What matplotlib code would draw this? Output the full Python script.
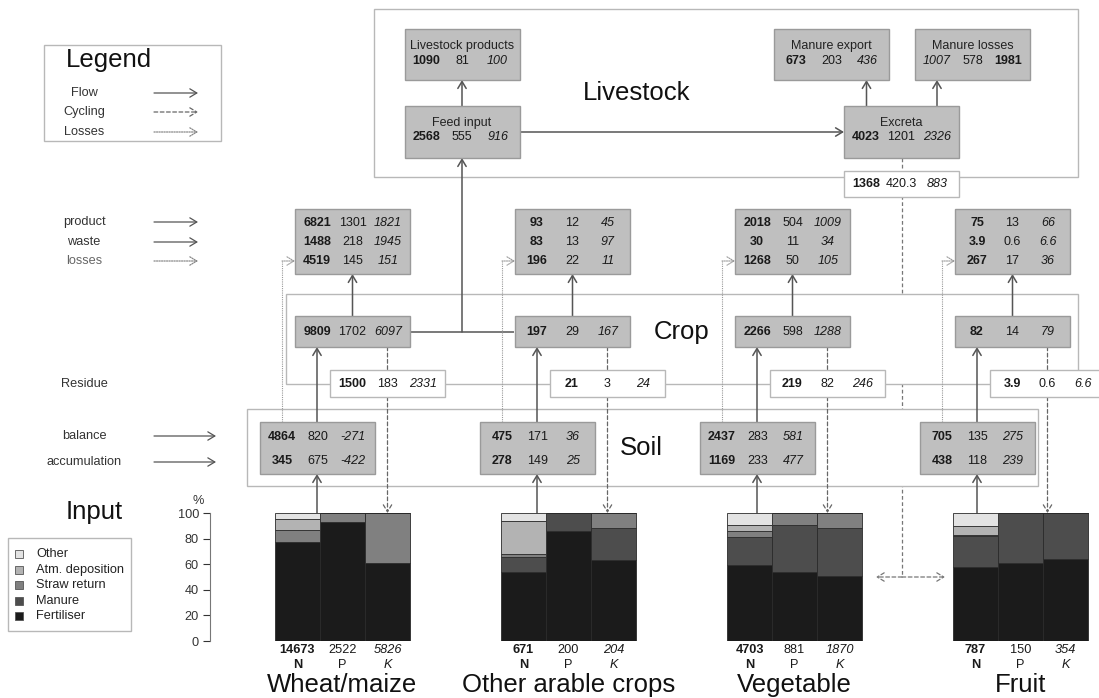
import matplotlib
matplotlib.use('Agg')
import matplotlib.pyplot as plt
from matplotlib.patches import Rectangle

plt.rcParams['font.family'] = ['Liberation Sans', 'DejaVu Sans']

# ---------------- data ----------------
groups = ['Wheat/maize', 'Other arable crops', 'Vegetable', 'Fruit']
nutrients = ['N', 'P', 'K']
input_totals = [['14673', '2522', '5826'], ['671', '200', '204'],
                ['4703', '881', '1870'], ['787', '150', '354']]

source_names = ['Fertiliser', 'Manure', 'Straw return', 'Atm. deposition', 'Other']
fertiliser = [[77, 93, 61], [54, 86, 63], [59, 54, 51], [58, 61, 64]]
manure = [[0, 0, 0], [12, 14, 25], [22, 37, 37], [24, 39, 36]]
straw_return = [[10, 7, 39], [2, 0, 12], [5, 9, 12], [1, 0, 0]]
atm_deposition = [[8, 0, 0], [26, 0, 0], [5, 0, 0], [7, 0, 0]]
other_input = [[5, 0, 0], [6, 0, 0], [9, 0, 0], [10, 0, 0]]

product = [['6821', '1301', '1821'], ['93', '12', '45'], ['2018', '504', '1009'], ['75', '13', '66']]
waste = [['1488', '218', '1945'], ['83', '13', '97'], ['30', '11', '34'], ['3.9', '0.6', '6.6']]
losses = [['4519', '145', '151'], ['196', '22', '11'], ['1268', '50', '105'], ['267', '17', '36']]
crop = [['9809', '1702', '6097'], ['197', '29', '167'], ['2266', '598', '1288'], ['82', '14', '79']]
residue = [['1500', '183', '2331'], ['21', '3', '24'], ['219', '82', '246'], ['3.9', '0.6', '6.6']]
balance = [['4864', '820', '-271'], ['475', '171', '36'], ['2437', '283', '581'], ['705', '135', '275']]
accumulation = [['345', '675', '-422'], ['278', '149', '25'], ['1169', '233', '477'], ['438', '118', '239']]

livestock_products = ['1090', '81', '100']
feed_input = ['2568', '555', '916']
manure_export = ['673', '203', '436']
manure_losses = ['1007', '578', '1981']
excreta = ['4023', '1201', '2326']
manure_applied = ['1368', '420.3', '883']

# ---------------- styling ----------------
GFACE = '#bfbfbf'
GEDGE = '#9a9a9a'
OEDGE = '#b8b8b8'
LINE = '#555555'
TXT = '#1a1a1a'
layer_colors = ['#1b1b1b', '#4d4d4d', '#808080', '#b3b3b3', '#e3e3e3']
BIG = 18.5
SMALL = 9.2
BOXF = 9

fig = plt.figure(figsize=(10.99, 6.98), dpi=100)
ax = fig.add_axes([0, 0, 1, 1])
ax.set_xlim(0, 1099)
ax.set_ylim(698, 0)
ax.axis('off')

STY = [dict(fontweight='bold'), dict(), dict(fontstyle='italic')]
COLS = [22, 57.5, 93]
BW = 115


def rect(x0, y0, x1, y1, face, edge, z, lw=1.0):
    ax.add_patch(Rectangle((x0, y0), x1 - x0, y1 - y0, facecolor=face,
                           edgecolor=edge, lw=lw, zorder=z))


def row(x0, y, vals, styles=(0, 1, 2), size=BOXF):
    for off, v, s in zip(COLS, vals, styles):
        ax.text(x0 + off, y, v, ha='center', va='center', fontsize=size,
                color=TXT, zorder=6, **STY[s])


def arrow(x0, y0, x1, y1, ls='-', color=LINE, lw=1.1, z=3, style='->'):
    ax.annotate('', xy=(x1, y1), xytext=(x0, y0), zorder=z,
                arrowprops=dict(arrowstyle=style + ',head_length=0.5,head_width=0.3',
                                color=color, lw=lw, linestyle=ls,
                                shrinkA=0, shrinkB=0))


def line(xs, ys, ls='-', color=LINE, lw=1.1, z=3):
    ax.plot(xs, ys, ls=ls, color=color, lw=lw, zorder=z, solid_capstyle='butt')


# ---------------- left legend ----------------
rect(44, 45, 221, 141, 'white', OEDGE, 2)
ax.text(109, 60, 'Legend', ha='center', va='center', fontsize=BIG, color='#111')
for lab, y, ls, col in [('Flow', 93, '-', LINE), ('Cycling', 112, (0, (3, 2)), '#666'),
                        ('Losses', 132, (0, (1, 1)), '#888')]:
    ax.text(84, y, lab, ha='center', va='center', fontsize=SMALL, color='#333')
    arrow(154, y, 198, y, ls=ls, color=col, lw=0.9)

for lab, y, ls, col in [('product', 222, '-', LINE), ('waste', 242, '-', LINE),
                        ('losses', 261, (0, (1, 1)), '#888')]:
    ax.text(84, y, lab, ha='center', va='center', fontsize=SMALL,
            color='#333' if lab != 'losses' else '#666')
    arrow(154, y, 198, y, ls=ls, color=col, lw=0.9)

ax.text(84, 384, 'Residue', ha='center', va='center', fontsize=SMALL, color='#333')
for lab, y in [('balance', 436), ('accumulation', 462)]:
    ax.text(84, y, lab, ha='center', va='center', fontsize=SMALL, color='#333')
    arrow(154, y, 216, y, lw=0.9)

ax.text(94, 512, 'Input', ha='center', va='center', fontsize=BIG, color='#111')

# input legend
rect(8, 538, 131, 631, 'white', OEDGE, 2)
leg_order = [4, 3, 2, 1, 0]
for i, k in enumerate(leg_order):
    y = 554 + i * 15.5
    rect(15, y - 4, 23, y + 4, layer_colors[k], '#555555', 5, lw=0.6)
    ax.text(36, y, source_names[k], ha='left', va='center', fontsize=SMALL, color='#222', zorder=6)

# ---------------- livestock ----------------
rect(374, 9, 1078, 177, 'none', OEDGE, 2)
ax.text(637, 93, 'Livestock', ha='center', va='center', fontsize=BIG, color='#111')

# manure cycling line (hidden behind crop / soil frames)
line([901.5, 901.5], [158, 577], ls=(0, (3, 2)), color='#777', lw=0.9, z=1)
arrow(902, 577, 876, 577, ls=(0, (3, 2)), color='#777', lw=0.9, z=1)
arrow(902, 577, 945, 577, ls=(0, (3, 2)), color='#777', lw=0.9, z=1)

lbox = [('Livestock products', 404.6, 29, 80, livestock_products, (0, 1, 2)),
        ('Feed input', 404.6, 106, 158, feed_input, (0, 1, 2)),
        ('Manure export', 774, 29, 80, manure_export, (0, 1, 2)),
        ('Manure losses', 915, 29, 80, manure_losses, (2, 1, 0)),
        ('Excreta', 844, 106, 158, excreta, (0, 1, 2))]
for title, x0, y0, y1, vals, st in lbox:
    rect(x0, y0, x0 + BW, y1, GFACE, GEDGE, 4)
    ax.text(x0 + BW / 2, y0 + 17, title, ha='center', va='center', fontsize=BOXF, color='#222', zorder=6)
    row(x0, y0 + 31.5, vals, st)

rect(844, 171, 844 + BW, 197, 'white', OEDGE, 4)
row(844, 184, manure_applied)

arrow(462, 106, 462, 80)
arrow(519.6, 132, 844, 132)
arrow(866.5, 106, 866.5, 80)
arrow(937, 106, 937, 80)

# ---------------- crop / soil frames ----------------
rect(286, 294, 1078, 384, 'white', OEDGE, 2)
rect(247, 409, 1038, 486, 'white', OEDGE, 2)
ax.text(682, 332, 'Crop', ha='center', va='center', fontsize=BIG, color='#111', zorder=6)
ax.text(641, 448, 'Soil', ha='center', va='center', fontsize=BIG, color='#111', zorder=6)

# feed link
line([410, 514], [332, 332])
arrow(462, 332, 462, 158)

BAR_TOP = 513
for g in range(4):
    dx = 220 * g
    # product box
    px = 295 + dx
    rect(px, 209, px + BW, 274, GFACE, GEDGE, 4)
    row(px, 223, product[g])
    row(px, 242, waste[g])
    row(px, 261, losses[g])
    # crop box
    rect(px, 316, px + BW, 347, GFACE, GEDGE, 4)
    row(px, 332, crop[g])
    # residue box
    rx = 330 + dx
    rect(rx, 370, rx + BW, 397, 'white', OEDGE, 4)
    row(rx, 384, residue[g])
    # soil box
    sx = 260 + dx
    rect(sx, 422, sx + BW, 474, GFACE, GEDGE, 4)
    row(sx, 436.5, balance[g])
    row(sx, 461.5, accumulation[g])
    # flows
    arrow(317 + dx, BAR_TOP, 317 + dx, 474)
    arrow(317 + dx, 422, 317 + dx, 347)
    arrow(352.5 + dx, 316, 352.5 + dx, 274)
    arrow(387.5 + dx, 347, 387.5 + dx, BAR_TOP, ls=(0, (3, 2)), color='#666', lw=0.9)
    # losses
    line([282 + dx, 282 + dx], [422, 261], ls=(0, (1, 1)), color='#999', lw=0.8)
    arrow(282 + dx, 261, 295 + dx, 261, ls=(0, (1, 1)), color='#999', lw=0.8)

# ---------------- stacked input bars ----------------
axb = fig.add_axes([210 / 1099, (698 - 641) / 698, (1089 - 210) / 1099, 128 / 698])
axb.set_xlim(-65, 814)
axb.set_ylim(0, 100)
axb.patch.set_visible(False)
layers = [fertiliser, manure, straw_return, atm_deposition, other_input]
lefts = []
for g in range(4):
    for j in range(3):
        lefts.append(g * 226 + j * 45)
bottom = [0] * 12
for data, col in zip(layers, layer_colors):
    h = [data[g][j] for g in range(4) for j in range(3)]
    axb.bar(lefts, h, width=45, bottom=bottom, align='edge', color=col,
            edgecolor='#2a2a2a', lw=0.6)
    bottom = [b + v for b, v in zip(bottom, h)]

for g in range(4):
    for j in range(3):
        xc = g * 226 + j * 45 + 22.5
        axb.text(xc, -7, input_totals[g][j], ha='center', va='center', fontsize=SMALL,
                 color=TXT, clip_on=False, **STY[j])
        axb.text(xc, -19, nutrients[j], ha='center', va='center', fontsize=SMALL,
                 color=TXT, clip_on=False, **STY[j])
    axb.text(g * 226 + 67.5, -39.8, groups[g], ha='center', va='baseline', fontsize=BIG,
             color='#111', clip_on=False)

for s in ['top', 'right', 'bottom']:
    axb.spines[s].set_visible(False)
axb.spines['left'].set_bounds(0, 100)
axb.spines['left'].set_color('#777')
axb.set_xticks([])
axb.set_yticks([0, 20, 40, 60, 80, 100])
axb.tick_params(axis='y', labelsize=SMALL, colors='#333', length=5, width=0.8, pad=3)
ax.text(198, 501, '%', ha='center', va='center', fontsize=SMALL, color='#333')

fig.savefig('out.png', dpi=100)
